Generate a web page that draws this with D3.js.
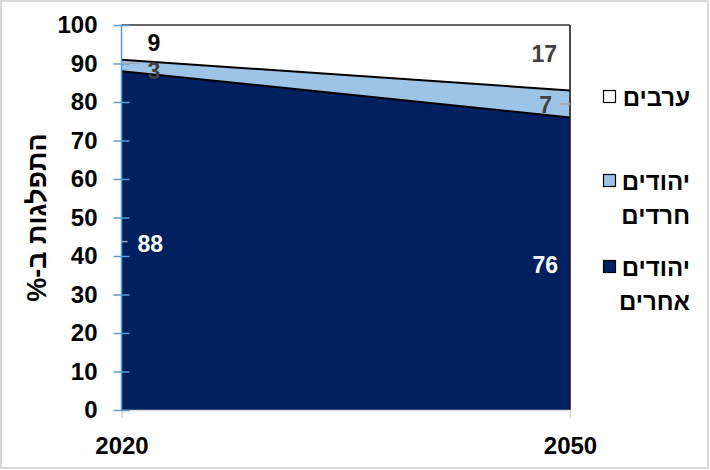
<!DOCTYPE html>
<html><head><meta charset="utf-8">
<script src="https://cdn.jsdelivr.net/npm/d3@7"></script>
<style>
body{margin:0;background:#fff;}
text{font-family:"Liberation Sans",Arial,sans-serif;font-weight:bold;}
</style></head>
<body><svg id="c" width="710" height="470"></svg>
<script>
const years = [2020, 2050];
const otherJews = [88, 76];
const haredi = [3, 7];
const arabs = [9, 17];
const yTicks = [0,10,20,30,40,50,60,70,80,90,100];
const seriesNames = ["יהודים אחרים", "יהודים חרדים", "ערבים"];
const seriesColors = ["#002060", "#9dc3e6", "#ffffff"];
const legendLines = [["ערבים"], ["יהודים","חרדים"], ["יהודים","אחרים"]];
const legendColors = ["#ffffff", "#9dc3e6", "#002060"];
const yTitle = "התפלגות ב-%";

const svg = d3.select("#c");
svg.append("rect").attr("x",1).attr("y",1).attr("width",707).attr("height",467)
  .attr("fill","#fff").attr("stroke","#d9d9d9").attr("stroke-width",2);

const x = d3.scalePoint().domain(years).range([121.5, 570]);
const y = d3.scaleLinear().domain([0,100]).range([410, 25]);

const rows = years.map((yr,i)=>({year:yr, o:otherJews[i], h:haredi[i], a:arabs[i]}));
const keys = ["o","h","a"];
const stacked = d3.stack().keys(keys)(rows);

const area = d3.area().x(d=>x(d.data.year)).y0(d=>y(d[0])).y1(d=>y(d[1]));
const topLine = d3.line().x(d=>x(d.data.year)).y(d=>y(d[1]));

stacked.forEach((s,i)=>{
  svg.append("path").attr("d",area(s)).attr("fill",seriesColors[i]);
});
// right edge
svg.append("line").attr("x1",x(2050)).attr("x2",x(2050)).attr("y1",y(100)).attr("y2",y(0))
  .attr("stroke","#111").attr("stroke-width",1.5);
stacked.forEach((s,i)=>{
  svg.append("path").attr("d",topLine(s)).attr("fill","none")
    .attr("stroke", i===2 ? "#333" : "#000").attr("stroke-width", i===2?1.5:2);
});

const font = "Liberation Sans, Arial, sans-serif";
// bottom axis
const gx = svg.append("g").attr("transform",`translate(0,${y(0)})`)
  .call(d3.axisBottom(x).tickSize(8).tickPadding(19).tickFormat(d3.format("d")));
gx.select(".domain").attr("stroke","#d9d9d9").attr("stroke-width",1.5);
gx.selectAll(".tick line").attr("stroke","#d9d9d9");
gx.selectAll(".tick text").attr("font-size",24).attr("fill","#000")
  .attr("font-family",font).attr("font-weight","bold");

// left axis
const gy = svg.append("g").attr("transform",`translate(${x(2020)},0)`)
  .call(d3.axisLeft(y).tickValues(yTicks).tickSize(8).tickPadding(16).tickFormat(d3.format("d")));
gy.select(".domain").attr("stroke","#5b9bd5").attr("stroke-width",1.5).attr("d",`M0,${y(0)}V${y(100)}`);
gy.selectAll(".tick line").attr("stroke","#5b9bd5").attr("stroke-width",1.5).attr("x1",8).attr("x2",-8);
gy.selectAll(".tick text").attr("font-size",24).attr("fill","#000")
  .attr("font-family",font).attr("font-weight","bold");

// data labels
const lab = (xx,yy,t,fill,anchor)=>svg.append("text").attr("x",xx).attr("y",yy).attr("dy","0.36em")
  .attr("text-anchor",anchor).attr("font-size",23).attr("fill",fill).text(t);
const x0 = x(2020), x1 = x(2050);
// 2020
lab(x0+26, y(otherJews[0]+haredi[0]+arabs[0]/2), arabs[0], "#000", "start");
svg.append("line").attr("x1",x0).attr("x2",x0+19).attr("y1",y(89.5)-2).attr("y2",y(89.5)-2).attr("stroke","#a6a6a6").attr("stroke-width",1.5);
lab(x0+26, y(otherJews[0]+haredi[0]/2)+5, haredi[0], "#404040", "start");
svg.append("line").attr("x1",x0).attr("x2",x0+6).attr("y1",y(44)+1).attr("y2",y(44)+1).attr("stroke","#a6a6a6").attr("stroke-width",1.5);
lab(x0+16, y(otherJews[0]/2)+3, otherJews[0], "#fff", "start");
// 2050
lab(x1-13, y(otherJews[1]+haredi[1]+arabs[1]/2)-4, arabs[1], "#404040", "end");
svg.append("line").attr("x1",x1-10).attr("x2",x1).attr("y1",y(79.5)).attr("y2",y(79.5)).attr("stroke","#a6a6a6").attr("stroke-width",1.5);
lab(x1-18, y(otherJews[1]+haredi[1]/2)+1, haredi[1], "#404040", "end");
lab(x1-12, y(otherJews[1]/2)+1, otherJews[1], "#fff", "end");

// y title
svg.append("text").attr("transform",`translate(36,${(y(0)+y(100))/2}) rotate(-90)`)
  .attr("text-anchor","middle").attr("dy","0.36em").attr("direction","rtl")
  .attr("font-size",27).attr("fill","#000").text(yTitle);

// legend
const legY = [97, 181, 267];
legendLines.forEach((lines,i)=>{
  lines.forEach((t,j)=>{
    svg.append("text").attr("x",690).attr("y",legY[i]+j*34).attr("dy","0.36em")
      .attr("text-anchor","end").attr("font-size",24).attr("fill","#000").text(t);
  });
  svg.append("rect").attr("x",603.5).attr("y",legY[i]-6.5).attr("width",12).attr("height",12)
    .attr("fill",legendColors[i]).attr("stroke","#000").attr("stroke-width",1.2);
});
</script></body></html>
